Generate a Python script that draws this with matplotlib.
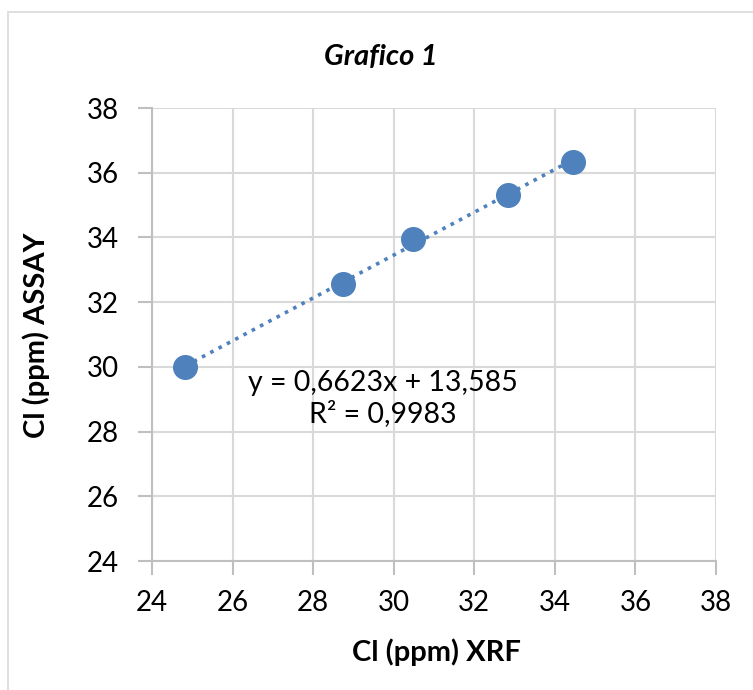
import matplotlib
matplotlib.use("Agg")
import matplotlib.pyplot as plt
from matplotlib.patches import Rectangle
import numpy as np

# Data
xrf = [24.83, 28.74, 30.49, 32.84, 34.44]
assay = [30.00, 32.57, 33.96, 35.31, 36.34]
slope = 0.6623
intercept = 13.585
eq_text = "y = 0,6623x + 13,585\nR² = 0,9983"
title = "Grafico 1"
xlabel = "Cl (ppm) XRF"
ylabel = "Cl (ppm) ASSAY"
ticks = [24, 26, 28, 30, 32, 34, 36, 38]

plt.rcParams['font.family'] = ['Lato', 'DejaVu Sans']

fig = plt.figure(figsize=(7.53, 6.90), dpi=100)
fig.patches.append(Rectangle((8/753, -0.05), 1.0, 1.05 - 12/690, transform=fig.transFigure,
                             fill=False, edgecolor='#D9D9D9', linewidth=1.2))

ax = fig.add_axes([152/753, 1 - 561/690, (716 - 152)/753, (561 - 108)/690])
color = '#4F81BD'
gridc = '#D9D9D9'

ax.set_xlim(24, 38)
ax.set_ylim(24, 38)
ax.set_xticks(ticks)
ax.set_yticks(ticks)
ax.set_xticklabels([str(t) for t in ticks])
ax.set_yticklabels([str(t) for t in ticks])
ax.grid(True, color=gridc, linewidth=1.5)
ax.set_axisbelow(True)
for s in ['top', 'right']:
    ax.spines[s].set_visible(False)
for s in ['left', 'bottom']:
    ax.spines[s].set_color('#BFBFBF')
    ax.spines[s].set_linewidth(1.5)
ax.tick_params(axis='both', which='major', length=10, width=1.5, color='#BFBFBF',
               labelsize=20, labelcolor='black')
ax.tick_params(axis='x', pad=11)
ax.tick_params(axis='y', pad=14)

xfit = np.array([min(xrf), max(xrf)])
ax.plot(xfit, slope * xfit + intercept, linestyle=(0, (1, 1.6)), color=color,
        linewidth=2.6, zorder=2)
ax.plot(xrf, assay, 'o', color=color, markersize=17, zorder=3, clip_on=False)

ax.text(29.73, 29.03, eq_text, ha='center', va='center', multialignment='center',
        fontsize=20.5, linespacing=1.2, zorder=4)

fig.text(381/753, 1 - 57/690, title, ha='center', va='center', fontsize=21,
         fontweight='bold', fontstyle='italic')
fig.text(436/753, 1 - 652/690, xlabel, ha='center', va='center', fontsize=21,
         fontweight='bold')
fig.text(36/753, 1 - 335/690, ylabel, ha='center', va='center', fontsize=21,
         fontweight='bold', rotation=90)

fig.savefig('out.png', dpi=100)
